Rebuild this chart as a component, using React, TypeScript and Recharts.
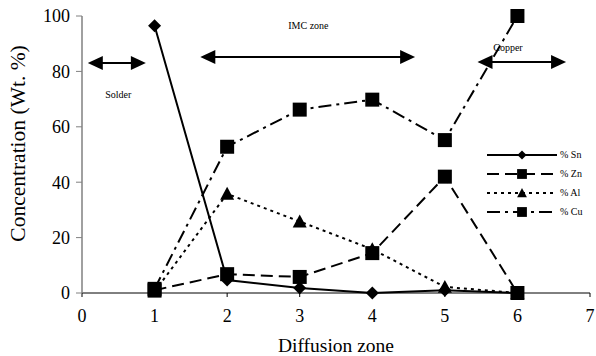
import {
  LineChart,
  Line,
  XAxis,
  YAxis,
  ReferenceLine,
  ReferenceDot,
} from 'recharts';

const zones = [1, 2, 3, 4, 5, 6];
const sn = [96.5, 4.7, 1.8, 0, 1, 0];
const zn = [1, 6.8, 5.8, 14.4, 42, 0];
const al = [0.5, 35.8, 25.8, 15.8, 2.2, 0];
const cu = [1.5, 52.8, 66.2, 69.8, 55.2, 100];

const xTicks = [0, 1, 2, 3, 4, 5, 6, 7];
const yTicks = [0, 20, 40, 60, 80, 100];

const data = zones.map((z, i) => ({ x: z, sn: sn[i], zn: zn[i], al: al[i], cu: cu[i] }));

const FONT = '"Liberation Serif", "Times New Roman", serif';

// region arrows, in data units
const regions = [
  { name: 'Solder', from: 0.08, to: 0.88, y: 83, labelX: 0.5, labelY: 71.5 },
  { name: 'IMC zone', from: 1.63, to: 4.59, y: 85.2, labelX: 3.12, labelY: 96.6 },
  { name: 'Copper', from: 5.45, to: 6.67, y: 83.4, labelX: 5.87, labelY: 88.8 },
];

const series = [
  { key: 'sn', name: '% Sn', dash: undefined, marker: 'diamond' },
  { key: 'zn', name: '% Zn', dash: '12 6', marker: 'square' },
  { key: 'al', name: '% Al', dash: '3 4', marker: 'triangle' },
  { key: 'cu', name: '% Cu', dash: '13 5 3 5', marker: 'square' },
];

function Marker({ type, cx, cy, scale = 1 }: { type: string; cx: number; cy: number; scale?: number }) {
  if (type === 'diamond') {
    const s = 6.5 * scale;
    return <polygon points={`${cx},${cy - s} ${cx + s},${cy} ${cx},${cy + s} ${cx - s},${cy}`} fill="#000" />;
  }
  if (type === 'triangle') {
    const s = 7 * scale;
    return <polygon points={`${cx},${cy - s} ${cx + s},${cy + s * 0.85} ${cx - s},${cy + s * 0.85}`} fill="#000" />;
  }
  const s = 7 * scale;
  return <rect x={cx - s} y={cy - s} width={s * 2} height={s * 2} fill="#000" />;
}

const makeDot = (type: string) => (props: any) => {
  const { cx, cy, index } = props;
  return <Marker key={`${type}-${index}`} type={type} cx={cx} cy={cy} />;
};

const ArrowShape = (p: any) => {
  const { x1, y1, x2, y2 } = p;
  const L = 15;
  const H = 7;
  return (
    <g>
      <line x1={x1 + L - 2} y1={y1} x2={x2 - L + 2} y2={y2} stroke="#000" strokeWidth={2} />
      <polygon points={`${x1},${y1} ${x1 + L},${y1 - H} ${x1 + L},${y1 + H}`} fill="#000" />
      <polygon points={`${x2},${y2} ${x2 - L},${y2 - H} ${x2 - L},${y2 + H}`} fill="#000" />
    </g>
  );
};

const labelShape = (text: string) => (p: any) => (
  <text x={p.cx} y={p.cy} textAnchor="middle" dominantBaseline="central" fontSize={10} fontFamily={FONT} fill="#000">
    {text}
  </text>
);

function LegendBox() {
  return (
    <div style={{ fontFamily: FONT, fontSize: 10 }}>
      {series.map((s) => (
        <div key={s.key} style={{ display: 'flex', alignItems: 'center', height: 19 }}>
          <svg width={72} height={14}>
            <line x1={0} y1={7} x2={70} y2={7} stroke="#000" strokeWidth={2} strokeDasharray={s.dash} />
            <Marker type={s.marker} cx={35} cy={7} scale={0.7} />
          </svg>
          <span style={{ marginLeft: 1 }}>{s.name}</span>
        </div>
      ))}
    </div>
  );
}

export default function App() {
  return (
    <div style={{ position: 'absolute', left: 0, top: 0, width: 596, height: 356, background: '#fff' }}>
      <LineChart width={596} height={356} data={data} margin={{ top: 16, right: 6, left: 0, bottom: 0 }}>
        <XAxis
          type="number"
          dataKey="x"
          domain={[0, 7]}
          ticks={xTicks}
          interval={0}
          height={63}
          axisLine={{ stroke: '#000', strokeWidth: 1 }}
          tickLine={{ stroke: '#000' }}
          tickSize={4}
          tickMargin={12}
          tick={{ fontSize: 18, fill: '#000', fontFamily: FONT }}
          label={{ value: 'Diffusion zone', position: 'insideBottom', offset: 4, fontSize: 19.5, fill: '#000', fontFamily: FONT }}
        />
        <YAxis
          domain={[0, 100]}
          ticks={yTicks}
          width={82}
          axisLine={{ stroke: '#808080', strokeWidth: 1.5 }}
          tickLine={{ stroke: '#808080' }}
          tickSize={6}
          tickMargin={6}
          tick={{ fontSize: 18, fill: '#000', fontFamily: FONT }}
          label={{
            value: 'Concentration (Wt. %)',
            angle: -90,
            position: 'insideLeft',
            offset: 17,
            dy: -11,
            style: { textAnchor: 'middle' },
            fontSize: 21.5,
            fill: '#000',
            fontFamily: FONT,
          }}
        />
        {regions.map((r) => (
          <ReferenceLine
            key={r.name}
            segment={[
              { x: r.from, y: r.y },
              { x: r.to, y: r.y },
            ]}
            shape={ArrowShape}
          />
        ))}
        {regions.map((r) => (
          <ReferenceDot key={`lbl-${r.name}`} x={r.labelX} y={r.labelY} r={1} shape={labelShape(r.name)} />
        ))}
        {series.map((s) => (
          <Line
            key={s.key}
            dataKey={s.key}
            name={s.name}
            type="linear"
            stroke="#000"
            strokeWidth={2}
            strokeDasharray={s.dash}
            dot={makeDot(s.marker)}
            activeDot={false}
            isAnimationActive={false}
          />
        ))}
      </LineChart>
      <div style={{ position: 'absolute', left: 487, top: 145 }}>
        <LegendBox />
      </div>
    </div>
  );
}
